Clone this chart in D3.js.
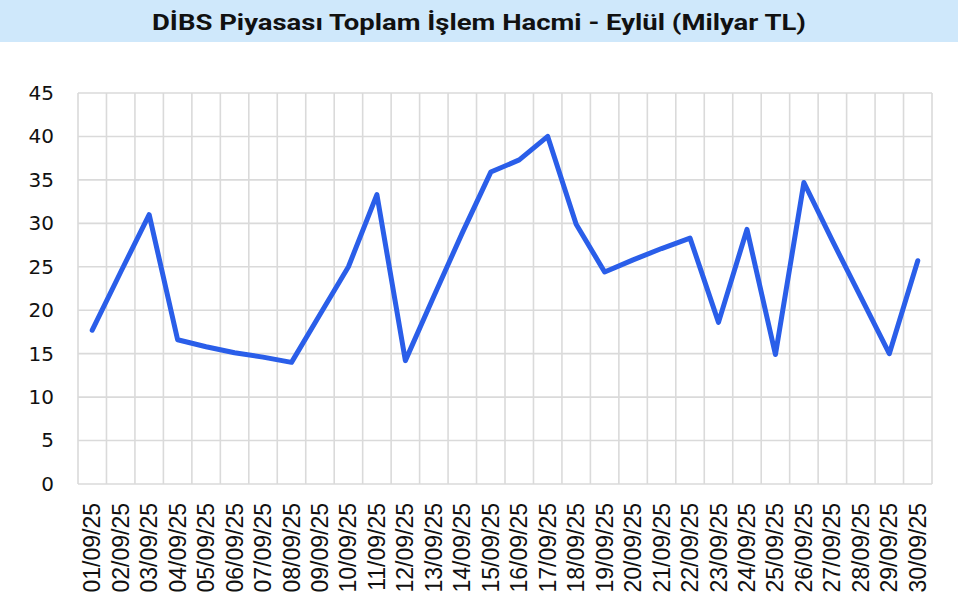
<!DOCTYPE html>
<html>
<head>
<meta charset="utf-8">
<script src="https://cdn.jsdelivr.net/npm/d3@7"></script>
<style>
  html, body { margin: 0; padding: 0; background: #ffffff; }
  svg { display: block; }
</style>
</head>
<body>
<svg id="chart" width="960" height="606"></svg>
<script>
const title = "DİBS Piyasası Toplam İşlem Hacmi - Eylül (Milyar TL)";
const categories = [
  "01/09/25","02/09/25","03/09/25","04/09/25","05/09/25","06/09/25","07/09/25","08/09/25","09/09/25","10/09/25",
  "11/09/25","12/09/25","13/09/25","14/09/25","15/09/25","16/09/25","17/09/25","18/09/25","19/09/25","20/09/25",
  "21/09/25","22/09/25","23/09/25","24/09/25","25/09/25","26/09/25","27/09/25","28/09/25","29/09/25","30/09/25"
];
const values = [
  17.7, 24.4, 31.0, 16.6, 15.8, 15.1, 14.6, 14.0, 19.5, 25.0,
  33.3, 14.2, 21.6, 28.9, 35.9, 37.3, 40.0, 29.9, 24.4, 25.8,
  27.1, 28.3, 18.6, 29.3, 14.9, 34.7, 28.0, 21.5, 15.0, 25.7
];
const yTicks = [0, 5, 10, 15, 20, 25, 30, 35, 40, 45];

const svg = d3.select("#chart");
const W = 960, H = 606;
const m = { left: 78, right: 28, top: 93, bottom: 122 };
const plotW = W - m.left - m.right;
const plotH = H - m.top - m.bottom;

// title bar
svg.append("rect").attr("x", 0).attr("y", 0).attr("width", 958).attr("height", 42)
  .attr("fill", "#cfe8fb");
svg.append("text")
  .attr("x", 479).attr("y", 30)
  .attr("text-anchor", "middle")
  .attr("font-family", "Roboto, 'Noto Sans', sans-serif")
  .attr("font-weight", "bold")
  .attr("font-size", 22)
  .attr("fill", "#111")
  .attr("textLength", 654)
  .attr("lengthAdjust", "spacingAndGlyphs")
  .text(title);

const g = svg.append("g").attr("transform", `translate(${m.left},${m.top})`);

const x = d3.scaleBand().domain(categories).range([0, plotW]).padding(0);
const y = d3.scaleLinear().domain([0, 45]).range([plotH, 0]);

// gridlines
const gridColor = "#dadada";
g.append("g").selectAll("line.h").data(yTicks).join("line")
  .attr("x1", 0).attr("x2", plotW)
  .attr("y1", d => y(d)).attr("y2", d => y(d))
  .attr("stroke", gridColor).attr("stroke-width", 1.6);
const bounds = categories.map(c => x(c)).concat([plotW]);
g.append("g").selectAll("line.v").data(bounds).join("line")
  .attr("x1", d => d).attr("x2", d => d)
  .attr("y1", 0).attr("y2", plotH)
  .attr("stroke", gridColor).attr("stroke-width", 1.6);

// y axis
const yAxis = d3.axisLeft(y).tickValues(yTicks).tickSize(0).tickPadding(24);
const ya = g.append("g").call(yAxis);
ya.select(".domain").remove();
ya.selectAll("text")
  .attr("font-family", "'DejaVu Sans', sans-serif")
  .attr("font-size", 20)
  .attr("fill", "#111");

// x axis
const xAxis = d3.axisBottom(x).tickSize(0).tickPadding(0);
const xa = g.append("g").attr("transform", `translate(0,${plotH})`).call(xAxis);
xa.select(".domain").remove();
xa.selectAll("text")
  .attr("font-family", "'Liberation Sans', Arial, sans-serif")
  .attr("font-size", 23)
  .attr("fill", "#111")
  .attr("text-anchor", "end")
  .attr("dy", "0.35em")
  .attr("transform", "translate(0,19) rotate(-90)")
  .attr("x", 0).attr("y", 0);

// line
const line = d3.line()
  .x((d, i) => x(categories[i]) + x.bandwidth() / 2)
  .y(d => y(d));
g.append("path").datum(values)
  .attr("d", line)
  .attr("fill", "none")
  .attr("stroke", "#2a5ee9")
  .attr("stroke-width", 5)
  .attr("stroke-linejoin", "round")
  .attr("stroke-linecap", "round");
</script>
</body>
</html>
